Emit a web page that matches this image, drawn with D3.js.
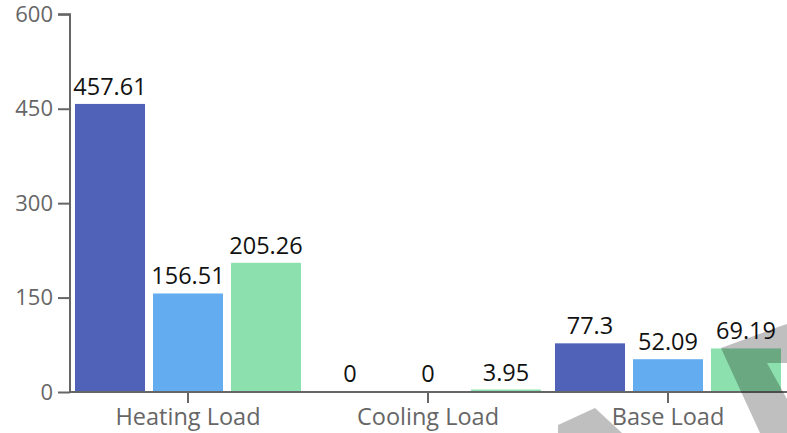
<!DOCTYPE html>
<html>
<head>
<meta charset="utf-8">
<script src="https://cdn.jsdelivr.net/npm/d3@7"></script>
<style>
  body { margin: 0; background: #fff; }
  svg { display: block; font-family: "Open Sans", sans-serif; }
</style>
</head>
<body>
<svg id="chart" width="787" height="433"></svg>
<script>
// chart data
var categories = ["Heating Load", "Cooling Load", "Base Load"];
var seriesNames = ["s1", "s2", "s3"];
var seriesColors = ["#4f62b8", "#64acf0", "#8ce0ad"];
var values = [
	[457.61, 156.51, 205.26],
	[0, 0, 3.95],
	[77.3, 52.09, 69.19]
];
var yTicks = [0, 150, 300, 450, 600];

var svg = d3.select("#chart");

var y = d3.scaleLinear().domain([0, 600]).range([392, 14.3]);
var x0 = d3.scaleBand().domain(categories).range([68, 788]);
var x1 = d3.scaleBand().domain(seriesNames).range([7, 233]).paddingInner(8 / 78);

//Bars per category group.
var groups = svg.selectAll("g.group")
	.data(categories)
	.enter()
	.append("g")
	.attr("class", "group")
	.attr("transform", function(d){ return "translate(" + x0(d) + ",0)"; });

groups.selectAll("rect")
	.data(function(d, i){
		return values[i].map(function(v, j){ return {key: seriesNames[j], value: v, color: seriesColors[j]}; });
	})
	.enter()
	.append("rect")
	.attr("x", function(d){ return x1(d.key); })
	.attr("y", function(d){ return y(d.value); })
	.attr("width", x1.bandwidth())
	.attr("height", function(d){ return y(0) - y(d.value); })
	.attr("fill", function(d){ return d.color; });

groups.selectAll("text.value")
	.data(function(d, i){
		return values[i].map(function(v, j){ return {key: seriesNames[j], value: v}; });
	})
	.enter()
	.append("text")
	.attr("class", "value")
	.attr("x", function(d){ return x1(d.key) + x1.bandwidth() / 2; })
	.attr("y", function(d){ return Math.min(y(d.value), y(0) - 1) - 9; })
	.attr("text-anchor", "middle")
	.attr("font-size", 23.5)
	.attr("fill", "#111")
	.text(function(d){ return d.value; });

//Y axis.
var yAxis = svg.append("g")
	.attr("transform", "translate(70,0)")
	.call(d3.axisLeft(y).tickValues(yTicks).tickSize(12).tickPadding(5));
yAxis.selectAll("text").attr("font-size", 22).attr("fill", "#666").attr("font-family", "Open Sans");
yAxis.selectAll("line, path").attr("stroke", "#666").attr("stroke-width", 2);
yAxis.select(".domain").attr("d", "M-12,14.3H0V392");

//X axis.
var xAxis = svg.append("g")
	.attr("transform", "translate(0,392)")
	.call(d3.axisBottom(x0).tickSize(11).tickPadding(5));
xAxis.selectAll("text").attr("font-size", 23.5).attr("fill", "#666").attr("font-family", "Open Sans");
xAxis.selectAll("line, path").attr("stroke", "#666").attr("stroke-width", 2);
xAxis.select(".domain").attr("d", "M70,0H787");

//Grey overlay shapes.
var overlay = [
	[[558, 433], [558, 425], [595, 408], [622, 433]],
	[[760, 433], [721, 348], [778, 327], [787, 324], [787, 363], [767, 363], [787, 399], [787, 433]]
];
svg.selectAll("polygon.overlay")
	.data(overlay)
	.enter()
	.append("polygon")
	.attr("class", "overlay")
	.attr("points", function(d){ return d.map(function(p){ return p.join(","); }).join(" "); })
	.attr("fill", "rgba(0,0,0,0.25)");
</script>
</body>
</html>
